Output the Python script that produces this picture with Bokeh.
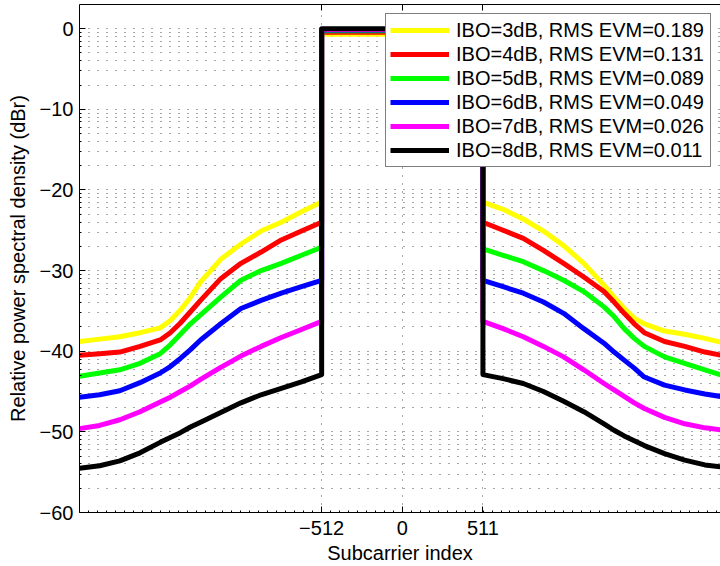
import math
from bokeh.plotting import figure
from bokeh.models import Range1d, FixedTicker, LinearAxis, Legend, LegendItem
from bokeh.embed import file_html
from bokeh.resources import INLINE

# ---------------- data ----------------
XL = [-2048, -1920, -1792, -1664, -1536, -1472, -1408, -1344, -1280, -1152, -1024, -896, -768, -640, -512]
XR = [511, 639, 767, 895, 1023, 1151, 1279, 1343, 1407, 1471, 1535, 1663, 1791, 1919, 2047]

LABELS = ["IBO=3dB, RMS EVM=0.189", "IBO=4dB, RMS EVM=0.131", "IBO=5dB, RMS EVM=0.089",
          "IBO=6dB, RMS EVM=0.049", "IBO=7dB, RMS EVM=0.026", "IBO=8dB, RMS EVM=0.011"]
COLORS = ["#ffff00", "#ff0000", "#00ff00", "#0000ff", "#ff00ff", "#000000"]

left_ibo3 = [-38.8, -38.5, -38.2, -37.7, -37.1, -36.2, -34.9, -33.3, -31.4, -28.6, -26.7, -25.1, -24.0, -22.7, -21.5]
left_ibo4 = [-40.5, -40.3, -40.1, -39.4, -38.6, -37.7, -36.5, -35.1, -33.7, -31.0, -29.1, -27.7, -26.2, -25.1, -24.0]
left_ibo5 = [-43.1, -42.7, -42.3, -41.5, -40.3, -39.2, -37.9, -36.6, -35.5, -33.3, -31.2, -30.0, -29.1, -28.1, -27.1]
left_ibo6 = [-45.7, -45.4, -44.9, -43.9, -42.7, -41.9, -40.9, -39.8, -38.6, -36.6, -34.7, -33.7, -32.8, -32.0, -31.2]
left_ibo7 = [-49.6, -49.2, -48.5, -47.5, -46.3, -45.7, -45.0, -44.3, -43.5, -42.0, -40.6, -39.4, -38.3, -37.3, -36.3]
left_ibo8 = [-54.5, -54.2, -53.6, -52.6, -51.3, -50.7, -50.1, -49.4, -48.8, -47.6, -46.4, -45.4, -44.6, -43.8, -42.9]

inband = [-0.7, -0.45, -0.25, -0.15, -0.1, 0.0]

right_ibo3 = [-21.5, -22.4, -23.6, -25.1, -26.9, -29.1, -31.8, -33.3, -34.7, -35.9, -36.6, -37.5, -37.9, -38.4, -39.0]
right_ibo4 = [-24.0, -25.0, -26.0, -27.5, -29.1, -30.8, -32.6, -33.9, -35.3, -36.6, -37.7, -38.8, -39.4, -40.1, -40.6]
right_ibo5 = [-27.3, -28.1, -28.9, -30.0, -31.2, -32.6, -34.5, -35.7, -37.2, -38.4, -39.4, -40.7, -41.5, -42.3, -43.1]
right_ibo6 = [-31.2, -32.0, -32.8, -33.9, -35.3, -37.2, -39.0, -40.1, -41.1, -42.1, -43.2, -44.2, -44.8, -45.3, -45.7]
right_ibo7 = [-36.3, -37.2, -38.2, -39.4, -40.7, -42.3, -44.0, -44.8, -45.6, -46.4, -47.1, -48.2, -49.0, -49.5, -49.8]
right_ibo8 = [-42.9, -43.4, -44.0, -45.0, -46.2, -47.5, -49.0, -49.8, -50.5, -51.1, -51.7, -52.7, -53.5, -54.1, -54.4]

LEFT = [left_ibo3, left_ibo4, left_ibo5, left_ibo6, left_ibo7, left_ibo8]
RIGHT = [right_ibo3, right_ibo4, right_ibo5, right_ibo6, right_ibo7, right_ibo8]

XTICKS = [-512, 0, 511]
YTICKS = [-60, -50, -40, -30, -20, -10, 0]

FONT = "Liberation Sans"
FS = "20px"

# ---------------- figure ----------------
p = figure(width=720, height=566, x_range=Range1d(-2048, 2018), y_range=Range1d(-60, 3),
           output_backend="svg", toolbar_location=None,
           min_border_left=79, min_border_right=0, min_border_top=4, min_border_bottom=53)
p.outline_line_color = None
p.background_fill_color = "white"

# minor grid positions (MATLAB-like)
xminor = [-2048 + j * 512 / 9 for j in range(73)]
yminor = []
for k in range(6):
    for m in range(2, 10):
        yminor.append(-10 * k - 10 + 10 * math.log10(m))

xt = FixedTicker(ticks=XTICKS, minor_ticks=xminor)
yt = FixedTicker(ticks=YTICKS, minor_ticks=yminor)

def style_axis(ax, ticker):
    ax.ticker = ticker
    ax.axis_line_color = "black"
    ax.axis_line_width = 1
    ax.major_tick_in = 6
    ax.major_tick_out = 0
    ax.minor_tick_in = 2
    ax.minor_tick_out = 0
    ax.major_tick_line_color = "black"
    ax.minor_tick_line_color = "black"
    ax.major_label_text_font = FONT
    ax.major_label_text_font_size = FS
    ax.major_label_text_color = "black"
    ax.axis_label_text_font = FONT
    ax.axis_label_text_font_size = FS
    ax.axis_label_text_font_style = "normal"
    ax.axis_label_text_color = "black"

xa = p.xaxis[0]
ya = p.yaxis[0]
style_axis(xa, xt)
style_axis(ya, yt)
xa.major_label_overrides = {t: str(t).replace("-", "\u2212") for t in XTICKS}
ya.major_label_overrides = {t: str(t).replace("-", "\u2212") for t in YTICKS}
xa.axis_label = "Subcarrier index"
ya.axis_label = "Relative power spectral density (dBr)"
xa.major_label_standoff = 8
xa.axis_label_standoff = 4
ya.major_label_standoff = 6
ya.axis_label_standoff = 8

# top axis: ticks only (no labels)
top = LinearAxis(ticker=FixedTicker(ticks=[], minor_ticks=XTICKS))
top.axis_line_color = "black"
top.minor_tick_in = 6
top.minor_tick_out = 0
top.minor_tick_line_color = "black"
top.major_tick_line_color = None
p.add_layout(top, "above")

# grids: dotted
p.xgrid.ticker = xt
p.ygrid.ticker = yt
p.xgrid.grid_line_color = "black"
p.xgrid.grid_line_alpha = 0.7
p.xgrid.grid_line_dash = "1 7"
p.xgrid.minor_grid_line_color = None
p.ygrid.grid_line_color = "black"
p.ygrid.grid_line_alpha = 0.7
p.ygrid.grid_line_dash = "1 8"
p.ygrid.minor_grid_line_color = "black"
p.ygrid.minor_grid_line_alpha = 0.7
p.ygrid.minor_grid_line_dash = "1 8"

# ---------------- series ----------------
items = []
for lv, ib, rv, col, lab in zip(LEFT, inband, RIGHT, COLORS, LABELS):
    xs = XL + [XL[-1], XR[0]] + XR
    ys = lv + [ib, ib] + rv
    r = p.line(xs, ys, line_color=col, line_width=5, line_join="round")
    items.append(LegendItem(label=lab, renderers=[r]))

legend = Legend(items=items, location="top_right")
legend.label_text_font = FONT
legend.label_text_font_size = FS
legend.label_text_color = "black"
legend.label_standoff = 7
legend.label_width = 250
legend.glyph_width = 59
legend.glyph_height = 24
legend.label_height = 24
legend.spacing = 0
legend.padding = 4
legend.margin = 9
legend.border_line_color = "black"
legend.border_line_width = 1
legend.background_fill_color = "white"
legend.background_fill_alpha = 1.0
p.add_layout(legend)

open("out.html", "w").write(file_html(p, INLINE))
